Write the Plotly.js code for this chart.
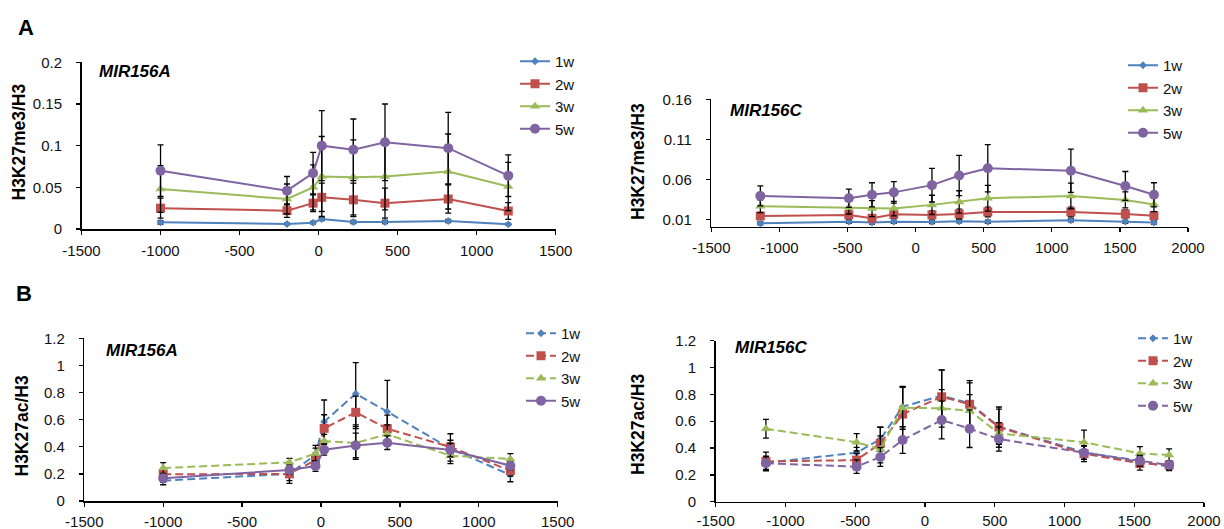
<!DOCTYPE html>
<html>
<head>
<meta charset="utf-8">
<script src="https://cdn.plot.ly/plotly-3.0.1.min.js"></script>
<style>html,body{margin:0;padding:0;background:#fff;}#chart{width:1224px;height:529px;}</style>
</head>
<body>
<div id="chart"></div>
<script>
// ---------- data ----------
const seriesNames = ["1w", "2w", "3w", "5w"];
const xTicksA = [-1500, -1000, -500, 0, 500, 1000, 1500];
const xTickTextA = ["-1500", "-1000", "-500", "0", "500", "1000", "1500"];
const xTicksC = [-1500, -1000, -500, 0, 500, 1000, 1500, 2000];
const xTickTextC = ["-1500", "-1000", "-500", "0", "500", "1000", "1500", "2000"];
const yTicksMeC = [0.01, 0.06, 0.11, 0.16];
const yTickTextMeC = ["0.01", "0.06", "0.11", "0.16"];

// positions (bp)
const posA = [-1000, -200, -35, 20, 220, 420, 820, 1200];
const posC = [-1140, -490, -320, -160, 120, 320, 530, 1140, 1540, 1750];

// Panel A, MIR156A, H3K27me3/H3
const meA_1w = [0.008, 0.006, 0.0076, 0.012, 0.0084, 0.0084, 0.0096, 0.0056];
const meA_1w_err = [0.002, 0.001, 0.0015, 0.002, 0.002, 0.002, 0.002, 0.001];
const meA_2w = [0.025, 0.022, 0.031, 0.038, 0.035, 0.031, 0.036, 0.0216];
const meA_2w_err = [0.012, 0.008, 0.01, 0.017, 0.02, 0.018, 0.017, 0.01];
const meA_3w = [0.048, 0.036, 0.050, 0.063, 0.062, 0.063, 0.069, 0.051];
const meA_3w_err = [0.028, 0.018, 0.027, 0.048, 0.045, 0.04, 0.045, 0.029];
const meA_5w = [0.070, 0.046, 0.067, 0.100, 0.095, 0.104, 0.097, 0.064];
const meA_5w_err = [0.031, 0.017, 0.025, 0.042, 0.037, 0.046, 0.043, 0.025];

// Panel A, MIR156C, H3K27me3/H3
const meC_1w = [0.0055, 0.0075, 0.0063, 0.0075, 0.0071, 0.008, 0.0075, 0.0092, 0.0075, 0.0063];
const meC_1w_err = [0.002, 0.002, 0.002, 0.002, 0.002, 0.002, 0.002, 0.002, 0.002, 0.002];
const meC_2w = [0.0146, 0.0159, 0.0117, 0.0167, 0.0159, 0.0171, 0.0196, 0.0196, 0.0171, 0.015];
const meC_2w_err = [0.004, 0.005, 0.004, 0.005, 0.005, 0.006, 0.006, 0.006, 0.005, 0.004];
const meC_3w = [0.0267, 0.025, 0.0238, 0.0238, 0.0284, 0.032, 0.0367, 0.0396, 0.0346, 0.029];
const meC_3w_err = [0.008, 0.008, 0.01, 0.009, 0.012, 0.014, 0.016, 0.016, 0.01, 0.009];
const meC_5w = [0.0396, 0.0367, 0.041, 0.044, 0.053, 0.065, 0.074, 0.071, 0.052, 0.041];
const meC_5w_err = [0.0125, 0.0113, 0.015, 0.0135, 0.021, 0.025, 0.0295, 0.027, 0.018, 0.015];

// Panel B, MIR156A, H3K27ac/H3
const acA_1w = [0.150, 0.20, 0.34, 0.585, 0.791, 0.659, 0.386, 0.192];
const acA_1w_err = [0.03, 0.05, 0.05, 0.16, 0.23, 0.23, 0.11, 0.05];
const acA_2w = [0.197, 0.2, 0.302, 0.536, 0.654, 0.533, 0.398, 0.224];
const acA_2w_err = [0.03, 0.07, 0.05, 0.1, 0.12, 0.1, 0.05, 0.04];
const acA_3w = [0.243, 0.285, 0.35, 0.442, 0.428, 0.492, 0.334, 0.31];
const acA_3w_err = [0.04, 0.03, 0.06, 0.05, 0.12, 0.07, 0.04, 0.04];
const acA_5w = [0.167, 0.229, 0.258, 0.378, 0.41, 0.43, 0.376, 0.26];
const acA_5w_err = [0.03, 0.03, 0.04, 0.04, 0.09, 0.05, 0.05, 0.03];

// Panel B, MIR156C, H3K27ac/H3
const acC_1w = [0.29, 0.365, 0.465, 0.708, 0.79, 0.733, 0.56, 0.368, 0.298, 0.261];
const acC_1w_err = [0.05, 0.04, 0.09, 0.15, 0.19, 0.17, 0.13, 0.05, 0.04, 0.03];
const acC_2w = [0.30, 0.31, 0.435, 0.653, 0.782, 0.726, 0.556, 0.358, 0.286, 0.273];
const acC_2w_err = [0.07, 0.05, 0.12, 0.2, 0.2, 0.16, 0.15, 0.06, 0.05, 0.03];
const acC_3w = [0.544, 0.443, 0.39, 0.70, 0.696, 0.678, 0.51, 0.443, 0.36, 0.348];
const acC_3w_err = [0.07, 0.065, 0.1, 0.16, 0.14, 0.12, 0.08, 0.09, 0.05, 0.045];
const acC_5w = [0.286, 0.261, 0.333, 0.46, 0.609, 0.544, 0.467, 0.365, 0.306, 0.273];
const acC_5w_err = [0.05, 0.05, 0.07, 0.1, 0.14, 0.14, 0.09, 0.05, 0.04, 0.03];

// ---------- styling ----------
const W = 1224, H = 529;
const FONT = "Liberation Sans, Arial, sans-serif";
const colors = ["#4F81BD", "#C0504D", "#9BBB59", "#8064A2"];
const symbols = ["diamond", "square", "triangle-up", "circle"];
const msizes = [6, 9, 9, 10];
const DASH = "8px,4px";

function mk(x, y, err, i, xa, ya, leg, dash) {
  return {
    type: "scatter", mode: "lines+markers",
    x: x, y: y, name: seriesNames[i],
    xaxis: xa, yaxis: ya, legend: leg,
    line: {color: colors[i], width: 2, dash: dash},
    marker: {color: colors[i], symbol: symbols[i], size: msizes[i], line: {width: 0}},
    error_y: {type: "data", array: err, visible: true, color: "#000", thickness: 1.3, width: 3},
    cliponaxis: false
  };
}

const traces = [
  mk(posA, meA_1w, meA_1w_err, 0, "x", "y", "legend", "solid"),
  mk(posA, meA_2w, meA_2w_err, 1, "x", "y", "legend", "solid"),
  mk(posA, meA_3w, meA_3w_err, 2, "x", "y", "legend", "solid"),
  mk(posA, meA_5w, meA_5w_err, 3, "x", "y", "legend", "solid"),
  mk(posC, meC_1w, meC_1w_err, 0, "x2", "y2", "legend2", "solid"),
  mk(posC, meC_2w, meC_2w_err, 1, "x2", "y2", "legend2", "solid"),
  mk(posC, meC_3w, meC_3w_err, 2, "x2", "y2", "legend2", "solid"),
  mk(posC, meC_5w, meC_5w_err, 3, "x2", "y2", "legend2", "solid"),
  mk(posA, acA_1w, acA_1w_err, 0, "x3", "y3", "legend3", DASH),
  mk(posA, acA_2w, acA_2w_err, 1, "x3", "y3", "legend3", DASH),
  mk(posA, acA_3w, acA_3w_err, 2, "x3", "y3", "legend3", DASH),
  mk(posA, acA_5w, acA_5w_err, 3, "x3", "y3", "legend3", "solid"),
  mk(posC, acC_1w, acC_1w_err, 0, "x4", "y4", "legend4", DASH),
  mk(posC, acC_2w, acC_2w_err, 1, "x4", "y4", "legend4", DASH),
  mk(posC, acC_3w, acC_3w_err, 2, "x4", "y4", "legend4", DASH),
  mk(posC, acC_5w, acC_5w_err, 3, "x4", "y4", "legend4", DASH)
];

const tickFont = {family: FONT, size: 15, color: "#111"};
function px(x0, x1) { return [x0 / W, x1 / W]; }
function py(top, bottom) { return [1 - bottom / H, 1 - top / H]; }
function xax(dom, anchor, tv, tt, standoff) {
  return {domain: dom, anchor: anchor, range: [tv[0], tv[tv.length - 1]], tickvals: tv, ticktext: tt,
    showline: true, linecolor: "#000", linewidth: 1.5, ticks: "outside", ticklen: 4, tickwidth: 1.3, tickcolor: "#000",
    ticklabelstandoff: standoff,
    showgrid: false, zeroline: false, tickfont: tickFont, fixedrange: true};
}
function yax(dom, anchor, range, extra) {
  return Object.assign({domain: dom, anchor: anchor, range: range,
    showline: true, linecolor: "#000", linewidth: 1.5, ticks: "outside", ticklen: 4, tickwidth: 1.3, tickcolor: "#000",
    ticklabelstandoff: 11,
    showgrid: false, zeroline: false, tickfont: tickFont, fixedrange: true}, extra || {});
}
function legendAt(xpx, ypx) {
  return {x: xpx / W, y: 1 - ypx / H, xanchor: "left", yanchor: "top", bgcolor: "rgba(0,0,0,0)",
    font: {family: FONT, size: 15, color: "#111"}, borderwidth: 0, tracegroupgap: 0};
}
function ann(text, xpx, ypx, size, opts) {
  return Object.assign({text: text, x: xpx / W, y: 1 - ypx / H, xref: "paper", yref: "paper",
    xanchor: "center", yanchor: "middle",
    showarrow: false, font: {family: FONT, size: size, color: "#000"}}, opts || {});
}

const layout = {
  width: W, height: H,
  margin: {l: 0, r: 0, t: 0, b: 0},
  paper_bgcolor: "#fff", plot_bgcolor: "#fff",
  showlegend: true,
  xaxis: xax(px(81.5, 555.7), "y", xTicksA, xTickTextA, 3),
  yaxis: yax(py(62.3, 229), "x", [0, 0.2], {dtick: 0.05}),
  xaxis2: xax(px(711.3, 1188), "y2", xTicksC, xTickTextC, 3),
  yaxis2: yax(py(99.3, 226.7), "x2", [0.0012, 0.16], {tickvals: yTicksMeC, ticktext: yTickTextMeC}),
  xaxis3: xax(px(84.3, 557.7), "y3", xTicksA, xTickTextA, 2),
  yaxis3: yax(py(338.3, 501), "x3", [0, 1.2], {dtick: 0.2}),
  xaxis4: xax(px(715.7, 1204), "y4", xTicksC, xTickTextC, 1),
  yaxis4: yax(py(340.7, 501.7), "x4", [0, 1.2], {dtick: 0.2}),
  legend: legendAt(515, 45),
  legend2: legendAt(1123, 49),
  legend3: legendAt(521, 317),
  legend4: legendAt(1133, 322),
  annotations: [
    ann("<b>A</b>", 26, 27, 22),
    ann("<b>B</b>", 24, 293, 22),
    ann("<b><i>MIR156A</i></b>", 97, 71.7, 17, {xanchor: "left"}),
    ann("<b><i>MIR156C</i></b>", 728, 110, 17, {xanchor: "left"}),
    ann("<b><i>MIR156A</i></b>", 104, 350, 17, {xanchor: "left"}),
    ann("<b><i>MIR156C</i></b>", 733, 347.3, 17, {xanchor: "left"}),
    ann("<b>H3K27me3/H3</b>", 18, 142.5, 17.5, {textangle: -90}),
    ann("<b>H3K27me3/H3</b>", 638, 162, 17.5, {textangle: -90}),
    ann("<b>H3K27ac/H3</b>", 21.7, 425.8, 17.5, {textangle: -90}),
    ann("<b>H3K27ac/H3</b>", 638, 425, 17.5, {textangle: -90})
  ]
};

Plotly.newPlot("chart", traces, layout, {displayModeBar: false, staticPlot: true});
</script>
</body>
</html>
